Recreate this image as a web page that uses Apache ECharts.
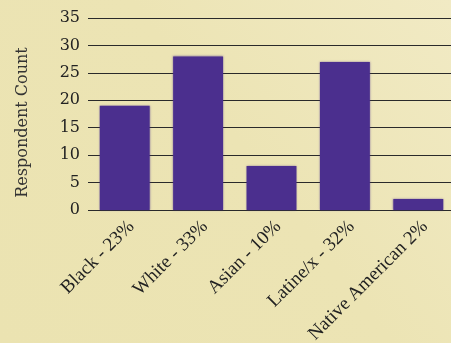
<!DOCTYPE html>
<html><head><meta charset="utf-8">
<script src="https://cdn.jsdelivr.net/npm/echarts@6/dist/echarts.min.js"></script>
<style>html,body{margin:0;padding:0;background:#ebe3b2;}#c{width:451px;height:343px;}</style>
</head><body><div id="c"></div>
<script>
const categories = ["Black - 23%", "White - 33%", "Asian - 10%", "Latine/x - 32%", "Native American 2%"];
const counts = [19, 28, 8, 27, 2];
const yTicks = { min: 0, max: 35, interval: 5 };
const yTitle = 'Respondent Count';

const chart = echarts.init(document.getElementById('c'), null, { renderer: 'canvas' });
chart.setOption({
  animation: false,
  backgroundColor: new echarts.graphic.LinearGradient(0, 1, 1, 0, [
    { offset: 0, color: '#ebe3b1' },
    { offset: 0.55, color: '#ece4b4' },
    { offset: 1, color: '#f1eac4' }
  ]),
  grid: { left: 88, right: -4, top: 18, bottom: 133, containLabel: false, outerBoundsMode: 'none' },
  xAxis: {
    type: 'category',
    data: categories,
    axisLine: { show: false },
    axisTick: { show: false },
    axisLabel: {
      rotate: 45, interval: 0, margin: 7, verticalAlign: 'top',
      fontFamily: 'Liberation Serif', fontSize: 19, color: '#222'
    }
  },
  yAxis: {
    type: 'value',
    min: yTicks.min, max: yTicks.max, interval: yTicks.interval,
    axisLine: { show: false },
    axisTick: { show: false },
    axisLabel: { fontFamily: 'DejaVu Serif', fontSize: 16, color: '#222', margin: 8 },
    splitLine: { show: true, lineStyle: { color: '#2a2a2a', width: 1 } }
  },
  graphic: [{
    type: 'text', x: 22.5, y: 122.5, rotation: Math.PI / 2,
    style: { text: yTitle, font: '16px "DejaVu Serif"', fill: '#333', align: 'center', verticalAlign: 'middle' }
  }],
  series: [{
    type: 'bar',
    data: counts,
    barCategoryGap: '32%',
    itemStyle: { color: '#4b2f8e', shadowBlur: 2, shadowColor: 'rgba(75,47,142,0.6)' }
  }]
});
</script></body></html>
